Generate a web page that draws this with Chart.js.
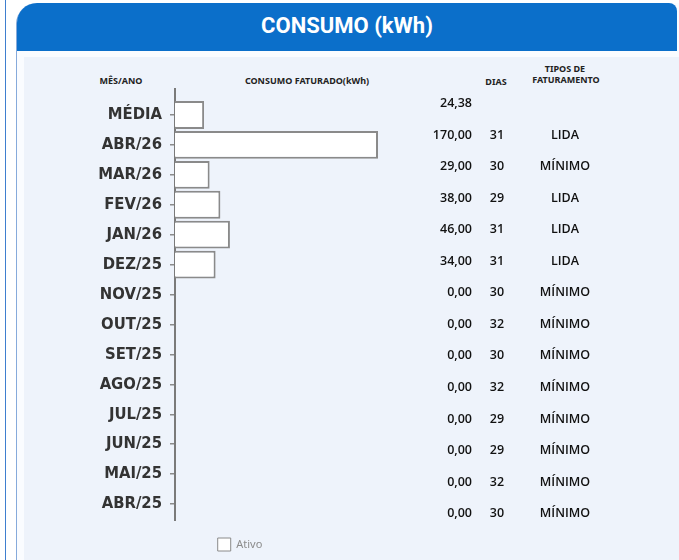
<!DOCTYPE html>
<html lang="pt-BR">
<head>
    <meta charset="UTF-8">
    <meta name="viewport" content="width=device-width, initial-scale=1.0">
    <title>Consumo (kWh)</title>
    <style>
        body {
            margin: 0;
            width: 679px;
            height: 560px;
            overflow: hidden;
            position: relative;
            background-color: #ffffff;
            font-family: "Noto Sans", sans-serif;
        }

        .frame {
            position: absolute;
            left: 5px;
            top: -2px;
            width: 700px;
            height: 570px;
            border-left: 1.5px solid #3f7fcf;
        }

        .card {
            position: absolute;
            left: 16px;
            top: 3px;
            width: 700px;
            height: 620px;
            background-color: #fafcff;
            border-left: 1px solid #86aadb;
            border-top-left-radius: 21px;
        }

        .head {
            position: absolute;
            left: 0;
            top: 0;
            width: 660px;
            height: 48px;
            background-color: #0b6fca;
            border-radius: 20px 8px 0 0;
            color: white;
            font: bold 22px Roboto, sans-serif;
            text-align: center;
            line-height: 46px;
        }

        .panel {
            position: absolute;
            left: 24px;
            top: 57px;
            width: 700px;
            height: 560px;
            background-color: #eef3fb;
        }

        .hd {
            position: absolute;
            transform: translate(-50%, -50%);
            font-size: 9px;
            font-weight: bold;
            color: #222;
            white-space: nowrap;
        }

        .chart-box {
            position: absolute;
            left: 16px;
            top: 51px;
            width: 448px;
            height: 510px;
        }

        .cell {
            position: absolute;
            transform: translateY(-50%);
            font-family: "Open Sans", "Noto Sans", sans-serif;
            font-size: 12.5px;
            font-weight: 600;
            color: #111;
            white-space: nowrap;
        }
    </style>
</head>
<body>
    <div class="frame"></div>
    <div class="card">
        <div class="head">CONSUMO (kWh)</div>
    </div>
    <div class="panel"></div>

    <div class="hd" style="left:121px; top:80px;">MÊS/ANO</div>
    <div class="hd" style="left:307px; top:80px;">CONSUMO FATURADO(kWh)</div>
    <div class="hd" style="left:496px; top:81px;">DIAS</div>
    <div class="hd" style="left:565px; top:68px;">TIPOS DE</div>
    <div class="hd" style="left:566px; top:79px;">FATURAMENTO</div>

    <div class="chart-box">
        <canvas id="consumoChart"></canvas>
    </div>
    <div id="tabela"></div>

    <script src="https://cdn.jsdelivr.net/npm/chart.js"></script>
    <script>
        const meses = ['MÉDIA', 'ABR/26', 'MAR/26', 'FEV/26', 'JAN/26', 'DEZ/25', 'NOV/25',
            'OUT/25', 'SET/25', 'AGO/25', 'JUL/25', 'JUN/25', 'MAI/25', 'ABR/25'];
        const consumo = [24.38, 170, 29, 38, 46, 34, 0, 0, 0, 0, 0, 0, 0, 0];
        const dias = [null, 31, 30, 29, 31, 31, 30, 32, 30, 32, 29, 29, 32, 30];
        const tipos = ['', 'LIDA', 'MÍNIMO', 'LIDA', 'LIDA', 'LIDA', 'MÍNIMO',
            'MÍNIMO', 'MÍNIMO', 'MÍNIMO', 'MÍNIMO', 'MÍNIMO', 'MÍNIMO', 'MÍNIMO'];

        // text columns on the right
        const tabela = document.getElementById('tabela');
        meses.forEach(function (m, i) {
            const y = 102 + i * 31.55;
            const valor = document.createElement('div');
            valor.className = 'cell';
            valor.style.right = (679 - 472) + 'px';
            valor.style.top = y + 'px';
            valor.textContent = consumo[i].toFixed(2).replace('.', ',');
            tabela.appendChild(valor);

            if (dias[i] !== null) {
                const d = document.createElement('div');
                d.className = 'cell';
                d.style.left = '497px';
                d.style.top = y + 'px';
                d.style.transform = 'translate(-50%, -50%)';
                d.textContent = dias[i];
                tabela.appendChild(d);
            }
            if (tipos[i]) {
                const t = document.createElement('div');
                t.className = 'cell';
                t.style.left = '565px';
                t.style.top = y + 'px';
                t.style.transform = 'translate(-50%, -50%)';
                t.textContent = tipos[i];
                tabela.appendChild(t);
            }
        });

        // axis line runs a bit past the plot area
        const axisExtra = {
            id: 'axisExtra',
            afterDraw(chart) {
                const a = chart.chartArea;
                const c = chart.ctx;
                c.save();
                c.strokeStyle = '#7a7a7a';
                c.lineWidth = 2;
                c.beginPath();
                c.moveTo(a.left, a.top - 12);
                c.lineTo(a.left, a.top);
                c.moveTo(a.left, a.bottom);
                c.lineTo(a.left, a.bottom + 2);
                c.stroke();
                c.restore();
            }
        };

        window.onload = function () {
            const ctx = document.getElementById('consumoChart').getContext('2d');
            new Chart(ctx, {
                type: 'bar',
                data: {
                    labels: meses,
                    datasets: [{
                        label: 'Ativo',
                        data: consumo,
                        backgroundColor: '#ffffff',
                        borderColor: '#8a8a8a',
                        borderWidth: 2,
                        barPercentage: 0.93,
                        categoryPercentage: 1
                    }]
                },
                options: {
                    indexAxis: 'y',
                    responsive: true,
                    maintainAspectRatio: false,
                    animation: false,
                    layout: { padding: { top: 49, left: 0, right: 0, bottom: 0 } },
                    scales: {
                        x: { display: false, min: 0, max: 242 },
                        y: {
                            grid: {
                                drawOnChartArea: false,
                                drawTicks: true,
                                tickLength: 5,
                                offset: false,
                                color: '#8a8a8a',
                                lineWidth: 1.5
                            },
                            border: { color: '#7a7a7a', width: 2 },
                            ticks: {
                                color: '#333333',
                                padding: 8,
                                font: {
                                    family: "'DejaVu Sans Condensed', 'Liberation Sans Narrow', sans-serif",
                                    size: 16.5,
                                    weight: 'bold'
                                }
                            },
                            afterFit(scale) { scale.width = 159; }
                        }
                    },
                    plugins: {
                        legend: {
                            position: 'bottom',
                            labels: {
                                boxWidth: 13,
                                boxHeight: 13,
                                padding: 19,
                                color: '#8c8c8c',
                                font: { family: '"Noto Sans", sans-serif', size: 11 },
                                generateLabels(chart) {
                                    const items = Chart.defaults.plugins.legend.labels.generateLabels(chart);
                                    items.forEach(function (it) {
                                        it.lineWidth = 1;
                                        it.strokeStyle = '#8a8a8a';
                                    });
                                    return items;
                                }
                            }
                        },
                        tooltip: { enabled: false }
                    }
                },
                plugins: [axisExtra]
            });
        };
    </script>
</body>
</html>
